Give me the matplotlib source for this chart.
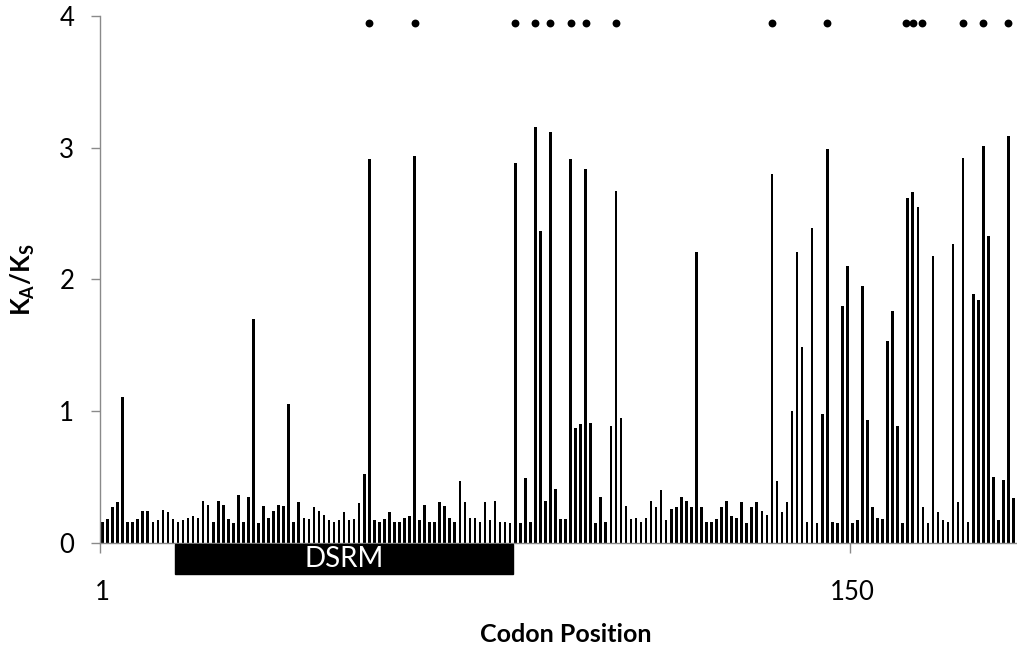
import numpy as np
import matplotlib
matplotlib.use("Agg")
import matplotlib.pyplot as plt
from matplotlib.patches import Rectangle

plt.rcParams["font.family"] = ["Lato", "DejaVu Sans"]
plt.rcParams["mathtext.fontset"] = "custom"
plt.rcParams["mathtext.rm"] = "Lato"
plt.rcParams["mathtext.bf"] = "Lato:bold"

# KA/KS pro Codon (1..182)
ka_ks = [
    0.16, 0.18, 0.27, 0.31, 1.11, 0.16, 0.16, 0.18, 0.24, 0.24,   # 1-10
    0.16, 0.17, 0.25, 0.23, 0.18, 0.16, 0.17, 0.19, 0.20, 0.19,   # 11-20
    0.32, 0.29, 0.16, 0.32, 0.29, 0.18, 0.15, 0.36, 0.16, 0.35,   # 21-30
    1.70, 0.15, 0.28, 0.19, 0.24, 0.29, 0.28, 1.05, 0.16, 0.31,   # 31-40
    0.19, 0.18, 0.27, 0.24, 0.21, 0.17, 0.16, 0.17, 0.23, 0.17,   # 41-50
    0.18, 0.30, 0.52, 2.91, 0.17, 0.16, 0.18, 0.23, 0.16, 0.16,   # 51-60
    0.19, 0.20, 2.94, 0.17, 0.29, 0.16, 0.16, 0.31, 0.28, 0.19,   # 61-70
    0.16, 0.47, 0.31, 0.19, 0.19, 0.16, 0.31, 0.17, 0.32, 0.16,   # 71-80
    0.16, 0.15, 2.88, 0.15, 0.49, 0.16, 3.16, 2.37, 0.32, 3.12,   # 81-90
    0.41, 0.18, 0.18, 2.91, 0.87, 0.90, 2.84, 0.91, 0.15, 0.35,   # 91-100
    0.16, 0.89, 2.67, 0.95, 0.28, 0.18, 0.19, 0.16, 0.19, 0.32,   # 101-110
    0.27, 0.40, 0.17, 0.26, 0.27, 0.35, 0.32, 0.27, 2.21, 0.27,   # 111-120
    0.16, 0.16, 0.18, 0.27, 0.32, 0.20, 0.19, 0.31, 0.15, 0.27,   # 121-130
    0.31, 0.24, 0.21, 2.80, 0.47, 0.23, 0.31, 1.00, 2.21, 1.49,   # 131-140
    0.16, 2.39, 0.15, 0.98, 2.99, 0.16, 0.15, 1.80, 2.10, 0.15,   # 141-150
    0.17, 1.95, 0.93, 0.27, 0.19, 0.18, 1.53, 1.76, 0.89, 0.15,   # 151-160
    2.62, 2.66, 2.55, 0.27, 0.15, 2.18, 0.23, 0.17, 0.16, 2.27,   # 161-170
    0.31, 2.92, 0.16, 1.89, 1.84, 3.01, 2.33, 0.50, 0.17, 0.48,   # 171-180
    3.09, 0.34,                                                   # 181-182
]
codons = np.arange(1, len(ka_ks) + 1)

# Markierte (signifikante) Positionen, Punkte oben
sig_sites = [54, 63, 83, 87, 90, 94, 97, 103, 134, 145, 160.6, 162.1, 163.8, 172, 176, 181]
sig_level = 3.95

# DSRM-Domäne
domain_label = "DSRM"
domain_start, domain_end = 16, 82

tick_pos = [1, 150]
tick_labels = ["1", "150"]

AXIS_GREY = "#8a8a8a"

fig = plt.figure(figsize=(10.17, 6.5), dpi=100)
ax = fig.add_axes([0.0983, 0.165, 0.9007, 0.8105])

ax.bar(codons, ka_ks, width=0.52, color="black", linewidth=0)
ax.scatter(sig_sites, [sig_level] * len(sig_sites), s=32, color="black",
           zorder=3, clip_on=False, linewidths=0)

ax.set_xlim(0.55, len(ka_ks) + 0.5)
ax.set_ylim(0, 4)
ax.set_yticks([0, 1, 2, 3, 4])
ax.tick_params(axis="y", direction="out", length=6.5, width=1, color=AXIS_GREY,
               labelsize=18.5, pad=12)

# Beschriftung auf Kategorie-Mitte, Tickstriche zwischen den Kategorien
ax.set_xticks(tick_pos)
ax.set_xticklabels(tick_labels)
ax.tick_params(axis="x", which="major", length=0, labelsize=18.5, pad=27)
ax.set_xticks([p - 0.5 for p in tick_pos], minor=True)
ax.tick_params(axis="x", which="minor", direction="out", length=7, width=1,
               color=AXIS_GREY)

for side in ("top", "right"):
    ax.spines[side].set_visible(False)
for side in ("left", "bottom"):
    ax.spines[side].set_color(AXIS_GREY)
    ax.spines[side].set_linewidth(1)

# Domänenbalken unter der Achse
box = Rectangle((domain_start - 0.5, -0.235), domain_end - domain_start + 1, 0.225,
                facecolor="black", edgecolor="black", clip_on=False, zorder=3)
ax.add_patch(box)
ax.text((domain_start + domain_end) / 2, -0.125, domain_label, color="white",
        fontsize=20, ha="center", va="center", zorder=4, clip_on=False)

ax.set_xlabel("Codon Position", fontsize=18, fontweight="bold")
ax.xaxis.set_label_coords(0.508, -0.152)
ax.set_ylabel(r"$\mathbf{K}_{\mathbf{A}}\mathbf{/K}_{\mathbf{S}}$", fontsize=18.5)
ax.yaxis.set_label_coords(-0.069, 0.5)

fig.savefig("out.png", dpi=100)
